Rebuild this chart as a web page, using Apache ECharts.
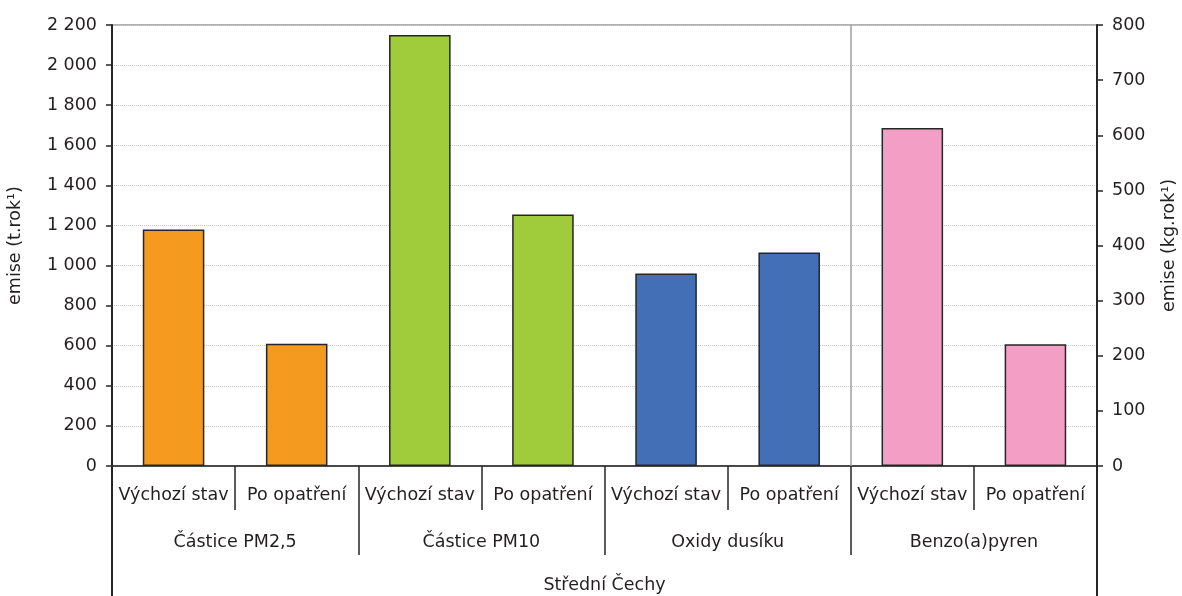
<!DOCTYPE html>
<html>
<head>
<meta charset="utf-8">
<script src="https://cdn.jsdelivr.net/npm/echarts@6/dist/echarts.min.js"></script>
<style>
  html, body { margin: 0; padding: 0; background: #fff; }
  #chart { width: 1182px; height: 596px; }
</style>
</head>
<body>
<div id="chart"></div>
<script>
// sub categories (bottom row), groups, region
const subCats = ['Výchozí stav', 'Po opatření', 'Výchozí stav', 'Po opatření',
  'Výchozí stav', 'Po opatření', 'Výchozí stav', 'Po opatření']
const groups = ['Částice PM2,5', 'Částice PM10', 'Oxidy dusíku', 'Benzo(a)pyren']
const region = ['Střední Čechy']
// t/rok - left axis
const emiseT = [1180, 610, 2150, 1255, 960, 1065, null, null]
// kg/rok - right axis (benzo(a)pyren)
const emiseKg = [null, null, null, null, null, null, 613, 221]
const groupColors = ['#F39A1F', '#A0CB3A', '#436FB6', '#F29EC5']

const font = 'DejaVu Sans, sans-serif'
const fs = 17.5
const txt = '#231f20'

function sep(v) {
  return String(v).replace(/\B(?=(\d{3})+(?!\d))/g, ' ')
}

function barData(vals) {
  return vals.map((v, i) => ({
    value: v,
    itemStyle: { color: groupColors[Math.floor(i / 2)] }
  }))
}

const chart = echarts.init(document.getElementById('chart'))
chart.setOption({
  animation: false,
  textStyle: { fontFamily: font },
  grid: {
    left: 112, right: 85, top: 25, bottom: 130,
    outerBoundsMode: 'none',
    containLabel: false,
    show: true, borderColor: '#9a9a9a', borderWidth: 1.5
  },
  xAxis: [
    {
      type: 'category',
      data: subCats,
      position: 'bottom',
      axisLine: { show: true, lineStyle: { color: '#262626', width: 1.5 } },
      axisTick: { show: true, interval: 0, length: 44, lineStyle: { color: '#262626', width: 1.5 } },
      axisLabel: { margin: 20, fontSize: fs, fontFamily: font, color: txt, interval: 0 }
    },
    {
      type: 'category',
      data: groups,
      position: 'bottom',
      axisLine: { show: false },
      axisTick: { show: true, interval: 0, length: 89, lineStyle: { color: '#262626', width: 1.5 } },
      axisLabel: { margin: 67, fontSize: fs, fontFamily: font, color: txt, interval: 0 }
    },
    {
      type: 'category',
      data: region,
      position: 'bottom',
      axisLine: { show: false },
      axisTick: { show: true, interval: 0, length: 140, lineStyle: { color: '#262626', width: 2 } },
      axisLabel: { margin: 110, fontSize: fs, fontFamily: font, color: txt }
    },
    {
      type: 'value',
      min: 0,
      max: 8,
      show: false
    }
  ],
  yAxis: [
    {
      type: 'value',
      min: 0,
      max: 2200,
      interval: 200,
      name: 'emise (t.rok\u00B9)',
      nameLocation: 'middle',
      nameGap: 88,
      nameTextStyle: { fontSize: fs, fontFamily: font, color: txt },
      axisLine: { show: true, lineStyle: { color: '#262626', width: 2 } },
      axisTick: { show: true, length: 6, lineStyle: { color: '#262626', width: 1.5 } },
      axisLabel: { margin: 15, fontSize: fs, fontFamily: font, color: txt, formatter: sep },
      splitLine: { lineStyle: { color: '#c8c8c8', type: 'dotted', width: 1 } }
    },
    {
      type: 'value',
      min: 0,
      max: 800,
      interval: 100,
      name: 'emise (kg.rok\u00B9)',
      nameLocation: 'middle',
      nameGap: 63,
      nameTextStyle: { fontSize: fs, fontFamily: font, color: txt },
      axisLine: { show: true, lineStyle: { color: '#262626', width: 2 } },
      axisTick: { show: true, length: 6, lineStyle: { color: '#262626', width: 1.5 } },
      axisLabel: { margin: 15, fontSize: fs, fontFamily: font, color: txt },
      splitLine: { show: false }
    }
  ],
  series: [
    {
      type: 'bar',
      xAxisIndex: 0,
      yAxisIndex: 0,
      barWidth: '50%',
      barGap: '-100%',
      data: barData(emiseT),
      itemStyle: { borderColor: '#262626', borderWidth: 1.5 }
    },
    {
      type: 'bar',
      xAxisIndex: 0,
      yAxisIndex: 1,
      barWidth: '50%',
      barGap: '-100%',
      data: barData(emiseKg),
      itemStyle: { borderColor: '#262626', borderWidth: 1.5 }
    },
    {
      // separator between t/rok and kg/rok part
      type: 'scatter',
      xAxisIndex: 3,
      yAxisIndex: 0,
      data: [],
      markLine: {
        silent: true,
        symbol: 'none',
        label: { show: false },
        lineStyle: { color: '#a0a0a0', type: 'solid', width: 1.5 },
        data: [{ xAxis: 6 }]
      }
    }
  ]
})
</script>
</body>
</html>
